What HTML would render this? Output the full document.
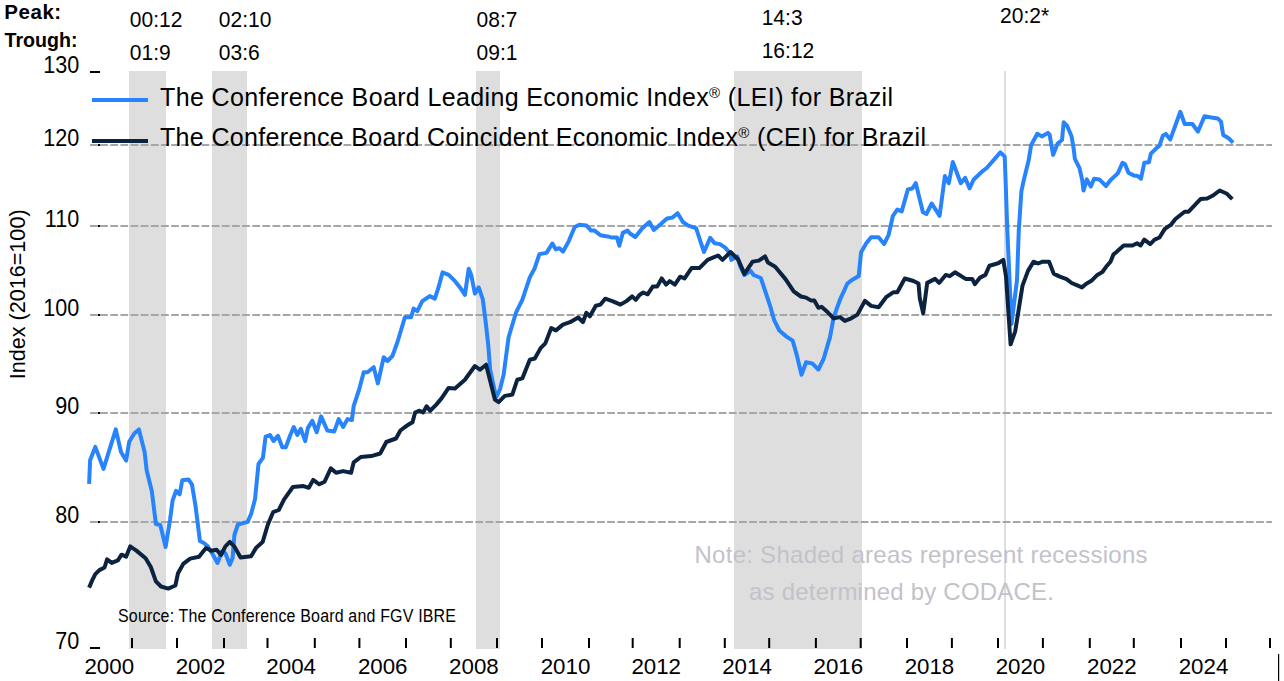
<!DOCTYPE html><html><head><meta charset="utf-8"><style>html,body{margin:0;padding:0;background:#fff;overflow:hidden}svg{display:block}text{font-family:"Liberation Sans", sans-serif}</style></head><body>
<svg width="1284" height="681" viewBox="0 0 1284 681">
<rect width="1284" height="681" fill="#fff"/>
<rect x="129" y="71" width="37" height="578" fill="#dedede"/>
<rect x="212" y="71" width="35" height="578" fill="#dedede"/>
<rect x="476" y="71" width="24" height="578" fill="#dedede"/>
<rect x="734" y="71" width="128" height="578" fill="#dedede"/>
<rect x="1004" y="71" width="2" height="578" fill="#dedede"/>
<line x1="90" y1="145" x2="1272" y2="145" stroke="#a6a6a6" stroke-width="2" stroke-dasharray="7.8 2.34"/>
<rect x="98" y="144" width="2" height="2" fill="#000"/>
<line x1="90" y1="226" x2="1272" y2="226" stroke="#a6a6a6" stroke-width="2" stroke-dasharray="7.8 2.34"/>
<rect x="98" y="225" width="2" height="2" fill="#000"/>
<line x1="90" y1="315" x2="1272" y2="315" stroke="#a6a6a6" stroke-width="2" stroke-dasharray="7.8 2.34"/>
<rect x="98" y="314" width="2" height="2" fill="#000"/>
<line x1="90" y1="413" x2="1272" y2="413" stroke="#a6a6a6" stroke-width="2" stroke-dasharray="7.8 2.34"/>
<rect x="98" y="412" width="2" height="2" fill="#000"/>
<line x1="90" y1="522" x2="1272" y2="522" stroke="#a6a6a6" stroke-width="2" stroke-dasharray="7.8 2.34"/>
<rect x="98" y="521" width="2" height="2" fill="#000"/>
<rect x="90" y="71" width="10" height="2" fill="#000"/>
<rect x="90" y="647" width="10" height="2" fill="#000"/>
<rect x="131" y="638" width="2" height="10" fill="#000"/>
<rect x="176" y="638" width="2" height="10" fill="#000"/>
<rect x="223" y="638" width="2" height="10" fill="#000"/>
<rect x="266.5" y="638" width="2" height="10" fill="#000"/>
<rect x="313.8" y="638" width="2" height="10" fill="#000"/>
<rect x="358.4" y="638" width="2" height="10" fill="#000"/>
<rect x="405" y="638" width="2" height="10" fill="#000"/>
<rect x="449.8" y="638" width="2" height="10" fill="#000"/>
<rect x="496" y="638" width="2" height="10" fill="#000"/>
<rect x="541" y="638" width="2" height="10" fill="#000"/>
<rect x="588" y="638" width="2" height="10" fill="#000"/>
<rect x="631.7" y="638" width="2" height="10" fill="#000"/>
<rect x="678.7" y="638" width="2" height="10" fill="#000"/>
<rect x="723.8" y="638" width="2" height="10" fill="#000"/>
<rect x="768.2" y="638" width="2" height="10" fill="#000"/>
<rect x="814.9" y="638" width="2" height="10" fill="#000"/>
<rect x="859.7" y="638" width="2" height="10" fill="#000"/>
<rect x="906" y="638" width="2" height="10" fill="#000"/>
<rect x="950.9" y="638" width="2" height="10" fill="#000"/>
<rect x="997" y="638" width="2" height="10" fill="#000"/>
<rect x="1041.9" y="638" width="2" height="10" fill="#000"/>
<rect x="1088.8" y="638" width="2" height="10" fill="#000"/>
<rect x="1132.8" y="638" width="2" height="10" fill="#000"/>
<rect x="1180" y="638" width="2" height="10" fill="#000"/>
<rect x="1225" y="638" width="2" height="10" fill="#000"/>
<rect x="1269" y="638" width="2" height="10" fill="#000"/>
<rect x="1278" y="654" width="1.2" height="27" fill="#000"/>
<text transform="translate(79.3,72.8) scale(1,1.07)" font-size="21.6" text-anchor="end">130</text>
<text transform="translate(79.3,145.8) scale(1,1.07)" font-size="21.6" text-anchor="end">120</text>
<text transform="translate(79.3,226.8) scale(1,1.07)" font-size="21.6" text-anchor="end">110</text>
<text transform="translate(79.3,315.8) scale(1,1.07)" font-size="21.6" text-anchor="end">100</text>
<text transform="translate(79.3,413.8) scale(1,1.07)" font-size="21.6" text-anchor="end">90</text>
<text transform="translate(79.3,522.8) scale(1,1.07)" font-size="21.6" text-anchor="end">80</text>
<text transform="translate(79.3,648.8) scale(1,1.07)" font-size="21.6" text-anchor="end">70</text>
<text x="109.25" y="673.5" font-size="22.3" text-anchor="middle">2000</text>
<text x="200.5" y="673.5" font-size="22.3" text-anchor="middle">2002</text>
<text x="291.15" y="673.5" font-size="22.3" text-anchor="middle">2004</text>
<text x="382.7" y="673.5" font-size="22.3" text-anchor="middle">2006</text>
<text x="473.9" y="673.5" font-size="22.3" text-anchor="middle">2008</text>
<text x="565.5" y="673.5" font-size="22.3" text-anchor="middle">2010</text>
<text x="656.2" y="673.5" font-size="22.3" text-anchor="middle">2012</text>
<text x="747" y="673.5" font-size="22.3" text-anchor="middle">2014</text>
<text x="838.3" y="673.5" font-size="22.3" text-anchor="middle">2016</text>
<text x="929.45" y="673.5" font-size="22.3" text-anchor="middle">2018</text>
<text x="1020.45" y="673.5" font-size="22.3" text-anchor="middle">2020</text>
<text x="1111.8" y="673.5" font-size="22.3" text-anchor="middle">2022</text>
<text x="1203.5" y="673.5" font-size="22.3" text-anchor="middle">2024</text>
<text transform="translate(25,379.3) rotate(-90)" font-size="21.6" x="0" y="0">Index (2016=100)</text>
<text x="4.2" y="19" font-size="20.5" font-weight="bold" textLength="57" lengthAdjust="spacing">Peak:</text>
<text x="4.5" y="46.8" font-size="20" font-weight="bold" textLength="73" lengthAdjust="spacingAndGlyphs">Trough:</text>
<text transform="translate(129.8,26.8) scale(1,1.07)" font-size="21">00:12</text>
<text transform="translate(129.8,59.8) scale(1,1.07)" font-size="21">01:9</text>
<text transform="translate(218.8,26.8) scale(1,1.07)" font-size="21">02:10</text>
<text transform="translate(218.8,59.8) scale(1,1.07)" font-size="21">03:6</text>
<text transform="translate(476.6,26.8) scale(1,1.07)" font-size="21">08:7</text>
<text transform="translate(476.6,59.9) scale(1,1.07)" font-size="21">09:1</text>
<text transform="translate(761.7,24.6) scale(1,1.07)" font-size="21">14:3</text>
<text transform="translate(761.7,57.7) scale(1,1.07)" font-size="21">16:12</text>
<text transform="translate(1000.1,23) scale(1,1.07)" font-size="21">20:2*</text>
<rect x="92" y="98" width="56" height="4" fill="#2884fc"/>
<rect x="92" y="139" width="56" height="4" fill="#0c2340"/>
<text x="160" y="105.5" font-size="25" textLength="733" lengthAdjust="spacing">The Conference Board Leading Economic Index<tspan font-size="15" dy="-8">®</tspan><tspan dy="8"> (LEI) for Brazil</tspan></text>
<text x="160" y="146" font-size="25" textLength="766" lengthAdjust="spacing">The Conference Board Coincident Economic Index<tspan font-size="15" dy="-8">®</tspan><tspan dy="8"> (CEI) for Brazil</tspan></text>
<text x="694.5" y="563" font-size="24" fill="#c2c2ca" textLength="453" lengthAdjust="spacing">Note: Shaded areas represent recessions</text>
<text x="749" y="599.8" font-size="24" fill="#c2c2ca" textLength="305" lengthAdjust="spacing">as determined by CODACE.</text>
<text transform="translate(118,622.3) scale(1,1.12)" font-size="16" textLength="338" lengthAdjust="spacing">Source: The Conference Board and FGV IBRE</text>
<path d="M89.1 483.9 L90.1 460.2 L95.3 446.9 L103.5 468.9 L115.8 429.4 L121.0 452.0 L126.1 460.6 L129.2 441.7 L134.3 433.5 L138.9 429.4 L144.6 452.0 L146.7 470.5 L151.8 491.0 L155.9 524.0 L160.3 525.0 L165.6 547.0 L170.0 520.0 L172.6 500.5 L176.1 490.8 L179.6 494.3 L182.3 480.2 L188.5 479.4 L192.0 484.6 L195.5 505.8 L199.9 541.0 L203.4 542.7 L207.8 546.3 L213.1 555.0 L217.5 563.0 L221.9 551.5 L225.4 553.3 L229.8 564.8 L232.6 558.0 L234.4 535.0 L237.9 524.5 L247.6 521.9 L251.1 514.0 L255.0 499.3 L258.5 464.0 L262.9 457.9 L265.6 436.7 L270.0 435.0 L273.5 441.1 L277.9 435.8 L282.3 447.3 L285.8 447.3 L290.3 435.0 L293.8 427.0 L297.3 435.0 L300.8 428.8 L305.2 441.1 L307.9 427.9 L312.3 420.8 L316.7 432.3 L321.1 416.4 L327.3 430.5 L334.3 431.4 L338.7 419.1 L343.1 427.0 L347.5 419.1 L351.9 420.0 L353.7 405.9 L359.0 390.0 L363.7 372.2 L367.5 372.2 L373.7 367.2 L377.9 383.4 L383.7 357.2 L387.4 361.0 L392.4 356.0 L397.4 342.3 L404.9 317.3 L411.1 317.3 L413.6 308.6 L417.3 311.1 L422.3 301.1 L429.8 296.1 L434.8 298.6 L438.5 287.4 L442.5 272.4 L448.7 274.9 L455.0 281.2 L460.0 287.4 L464.9 294.9 L468.7 268.7 L471.2 274.9 L474.9 293.6 L478.7 287.4 L482.8 299.4 L485.5 320.5 L488.1 343.4 L490.2 370.0 L496.1 397.1 L499.9 389.7 L503.6 374.7 L508.6 337.3 L516.1 312.3 L522.3 299.9 L529.8 277.4 L534.7 268.2 L539.4 254.1 L546.5 252.9 L552.3 243.5 L555.9 249.4 L559.4 248.2 L562.9 251.7 L568.8 241.1 L574.7 227.0 L579.4 224.7 L586.4 225.4 L591.1 230.6 L594.6 230.6 L600.5 235.3 L607.6 236.4 L612.3 237.6 L617.0 237.6 L619.3 245.8 L622.8 232.9 L627.5 230.6 L630.0 233.5 L635.3 237.0 L642.3 228.2 L649.4 222.0 L653.8 230.0 L660.0 224.7 L667.0 218.5 L672.3 217.6 L677.6 213.2 L682.9 222.0 L688.2 225.6 L696.1 228.2 L699.6 238.8 L704.0 252.0 L710.2 237.9 L714.6 243.2 L719.9 244.1 L725.2 247.6 L729.6 252.9 L731.4 259.9 L737.2 256.4 L740.3 266.7 L744.4 275.0 L750.6 270.8 L753.6 275.0 L760.8 278.0 L766.0 293.5 L770.1 305.8 L774.2 320.2 L779.3 330.5 L786.5 336.6 L792.7 340.7 L796.8 355.1 L801.5 374.7 L806.1 362.3 L812.2 363.4 L818.4 369.5 L823.5 359.2 L827.7 344.9 L830.0 337.1 L833.7 317.1 L840.0 299.7 L847.4 283.5 L852.4 279.7 L858.7 276.0 L861.1 252.3 L866.1 243.6 L871.1 237.3 L878.6 237.3 L884.1 244.0 L888.5 235.2 L892.9 215.8 L897.3 209.6 L901.7 211.4 L907.9 189.4 L912.3 188.5 L915.8 183.2 L922.9 212.3 L926.4 214.0 L931.7 203.5 L939.6 215.8 L944.9 176.1 L948.8 183.2 L952.8 162.0 L960.8 183.2 L965.2 177.9 L969.6 188.5 L973.5 179.7 L981.9 171.7 L986.7 168.0 L994.3 159.4 L1000.4 152.3 L1004.7 156.7 L1005.6 180.5 L1007.3 230.0 L1011.5 324.1 L1017.0 280.0 L1018.8 230.0 L1021.4 191.1 L1024.1 178.7 L1028.5 161.1 L1031.1 145.2 L1037.3 133.8 L1041.7 136.4 L1047.9 132.9 L1049.6 134.7 L1053.1 154.9 L1057.6 143.5 L1062.0 140.0 L1063.7 122.3 L1067.2 125.9 L1071.6 136.4 L1073.6 148.3 L1074.9 158.9 L1079.5 168.1 L1082.2 180.0 L1083.5 190.6 L1086.8 179.4 L1090.8 186.6 L1094.1 178.7 L1099.3 179.4 L1106.0 186.0 L1110.6 180.0 L1117.8 173.4 L1122.5 162.8 L1125.1 164.2 L1128.4 172.7 L1133.7 175.4 L1137.7 176.0 L1141.0 178.7 L1144.3 162.8 L1148.9 162.2 L1150.9 153.6 L1156.2 148.3 L1159.5 145.7 L1162.8 135.8 L1165.9 133.9 L1170.3 139.4 L1180.3 111.8 L1184.7 124.0 L1192.4 124.0 L1197.9 131.7 L1204.5 116.2 L1210.0 117.3 L1217.7 118.4 L1221.0 121.7 L1223.2 135.0 L1228.7 138.3 L1233.1 142.7" fill="none" stroke="#2884fc" stroke-width="4" stroke-linejoin="round" stroke-linecap="butt"/>
<path d="M89.1 587.6 L92.2 580.4 L95.3 574.2 L99.4 570.1 L104.5 567.5 L107.1 559.3 L111.7 562.9 L117.9 560.3 L121.5 554.7 L126.1 556.7 L130.2 546.4 L136.4 550.6 L145.6 558.3 L150.8 567.0 L155.9 581.4 L161.0 586.5 L168.2 588.6 L175.4 585.5 L178.0 573.2 L183.2 563.9 L190.2 558.6 L199.0 556.8 L206.0 548.0 L211.3 550.7 L216.6 549.8 L221.0 555.0 L225.4 546.3 L229.8 541.9 L234.2 546.3 L240.6 557.5 L251.1 556.2 L256.4 547.4 L262.6 542.1 L267.9 524.5 L273.1 512.2 L278.8 510.0 L284.1 499.3 L292.9 487.0 L303.5 486.1 L308.8 487.8 L313.2 479.9 L319.3 484.3 L324.6 481.7 L330.8 468.4 L336.1 472.8 L343.1 471.1 L351.1 472.8 L353.7 462.3 L360.8 457.0 L371.3 456.1 L380.2 453.5 L386.3 442.0 L396.0 438.5 L400.4 430.5 L405.0 427.0 L408.1 424.8 L412.5 422.2 L415.1 412.5 L419.5 410.7 L423.1 412.5 L426.6 406.3 L430.1 410.7 L436.3 404.6 L441.5 398.4 L448.6 387.9 L455.0 388.4 L464.9 379.7 L474.9 366.0 L479.9 369.7 L486.1 364.7 L489.9 379.7 L494.9 399.6 L498.6 402.1 L504.8 395.9 L512.3 394.6 L517.3 379.7 L522.3 378.4 L529.8 359.7 L534.8 358.5 L540.6 348.1 L545.3 343.4 L551.2 328.1 L555.9 330.4 L562.9 324.6 L570.0 322.2 L578.2 317.5 L582.9 322.2 L586.4 312.8 L589.9 316.3 L595.8 305.8 L600.5 304.6 L605.2 298.7 L612.3 301.1 L620.5 304.6 L626.4 301.1 L632.2 296.4 L635.8 299.9 L639.3 295.2 L643.2 292.5 L647.6 294.3 L652.9 286.4 L657.3 286.4 L661.7 278.4 L666.1 284.6 L669.7 281.1 L674.9 284.6 L680.2 276.7 L684.6 278.4 L691.7 267.9 L699.6 267.9 L707.6 259.9 L718.1 255.5 L722.5 259.9 L730.5 252.0 L738.2 259.5 L744.4 273.9 L752.6 261.6 L758.8 260.6 L765.0 256.4 L768.0 262.6 L775.2 266.7 L785.5 279.1 L793.7 291.4 L800.9 296.5 L806.1 297.6 L811.2 300.6 L814.3 300.6 L818.4 307.8 L821.5 306.8 L827.5 312.1 L833.7 318.4 L840.0 317.1 L844.9 320.9 L851.2 318.4 L857.4 314.6 L864.9 300.9 L871.1 305.9 L878.6 307.2 L886.1 297.2 L893.6 292.2 L897.3 292.2 L904.8 278.5 L913.5 281.0 L918.5 283.5 L919.8 298.4 L923.2 313.3 L927.2 282.9 L935.1 278.9 L939.1 282.9 L945.7 274.9 L949.7 276.2 L955.0 272.3 L965.6 278.9 L972.2 278.9 L974.8 284.2 L980.1 277.6 L985.4 274.9 L989.4 265.7 L994.7 264.3 L998.6 263.0 L1003.3 259.9 L1006.0 276.4 L1010.6 344.3 L1015.2 331.4 L1022.5 285.6 L1028.0 270.9 L1033.5 261.7 L1038.1 263.5 L1042.7 261.7 L1049.1 261.7 L1053.7 273.6 L1059.2 276.4 L1066.6 279.1 L1071.6 283.0 L1076.7 285.2 L1081.9 287.4 L1086.3 283.7 L1091.4 280.8 L1097.3 274.9 L1102.4 272.0 L1106.1 266.8 L1110.5 261.7 L1113.5 254.3 L1116.4 252.1 L1123.7 245.5 L1132.5 245.5 L1137.0 243.3 L1140.6 245.5 L1144.3 239.6 L1150.2 244.1 L1154.6 239.6 L1159.5 237.5 L1164.8 228.9 L1171.4 224.3 L1175.4 219.0 L1184.6 211.7 L1188.6 211.7 L1200.5 199.1 L1207.2 198.5 L1212.5 195.8 L1219.7 190.5 L1227.0 193.8 L1232.3 199.1" fill="none" stroke="#0c2340" stroke-width="4" stroke-linejoin="round" stroke-linecap="butt"/>
</svg></body></html>
